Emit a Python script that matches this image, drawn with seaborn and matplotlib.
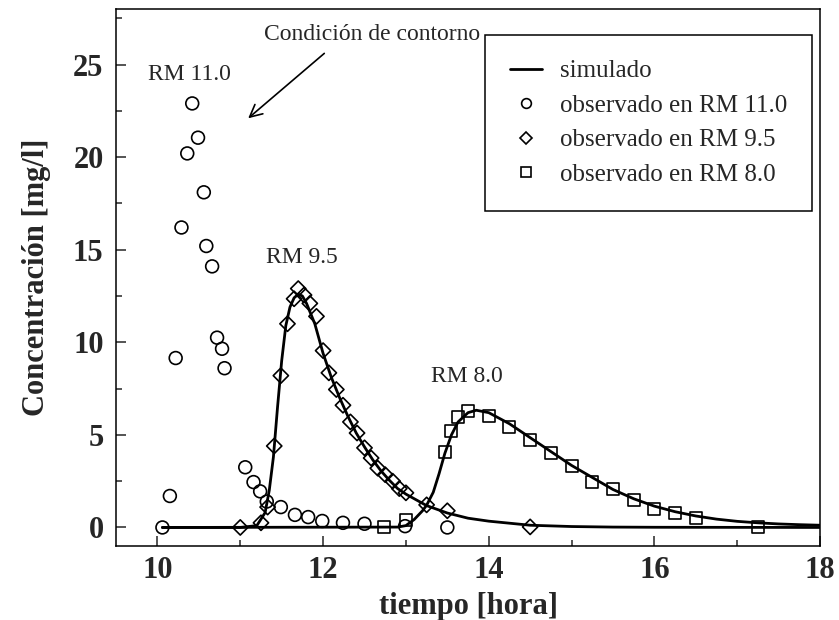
import numpy as np
import pandas as pd
import matplotlib
matplotlib.use("Agg")
import matplotlib.pyplot as plt
from matplotlib.lines import Line2D
from matplotlib.ticker import MultipleLocator
import seaborn as sns

# observed data, RM 11.0 (circles)
t_rm110 = [10.06, 10.15, 10.22, 10.29, 10.36, 10.42, 10.49, 10.56, 10.59, 10.66,
           10.72, 10.78, 10.81, 11.06, 11.16, 11.24, 11.32, 11.49, 11.66, 11.82,
           11.99, 12.24, 12.50, 12.99, 13.50]
c_rm110 = [0.0, 1.7, 9.15, 16.2, 20.2, 22.9, 21.05, 18.1, 15.2, 14.1,
           10.25, 9.65, 8.6, 3.25, 2.45, 1.95, 1.4, 1.1, 0.68, 0.56,
           0.35, 0.25, 0.2, 0.07, 0.0]

# observed data, RM 9.5 (diamonds)
t_rm95 = [11.00, 11.25, 11.33, 11.41, 11.49, 11.57, 11.65, 11.70, 11.77, 11.84,
          11.92, 12.00, 12.07, 12.16, 12.24, 12.33, 12.41, 12.50, 12.58, 12.66,
          12.75, 12.84, 12.92, 13.00, 13.25, 13.50, 14.50]
c_rm95 = [0.0, 0.25, 1.1, 4.4, 8.2, 11.0, 12.35, 12.9, 12.55, 12.1,
          11.4, 9.55, 8.35, 7.45, 6.6, 5.7, 5.1, 4.3, 3.75, 3.2,
          2.85, 2.5, 2.1, 1.87, 1.22, 0.9, 0.03]

# observed data, RM 8.0 (squares)
t_rm80 = [12.74, 13.00, 13.47, 13.55, 13.63, 13.75, 14.00, 14.25, 14.50, 14.75,
          15.00, 15.25, 15.50, 15.75, 16.00, 16.25, 16.50, 17.25]
c_rm80 = [0.0, 0.42, 4.05, 5.2, 5.95, 6.3, 6.0, 5.45, 4.7, 4.0,
          3.3, 2.45, 2.1, 1.5, 1.0, 0.8, 0.5, 0.03]

# simulated curves
t_sim95 = [10.06, 11.0, 11.2, 11.3, 11.35, 11.4, 11.45, 11.5, 11.55, 11.6,
           11.65, 11.7, 11.75, 11.8, 11.9, 12.0, 12.1, 12.2, 12.3, 12.4,
           12.5, 12.6, 12.7, 12.8, 12.9, 13.0, 13.25, 13.5, 13.75, 14.0,
           14.5, 15.0, 15.5, 16.0, 18.0]
c_sim95 = [0.0, 0.0, 0.1, 0.8, 2.0, 3.8, 6.5, 9.0, 10.9, 11.9,
           12.4, 12.6, 12.5, 12.1, 11.0, 9.4, 8.1, 7.0, 6.0, 5.1,
           4.35, 3.65, 3.05, 2.55, 2.1, 1.8, 1.18, 0.78, 0.5, 0.34,
           0.12, 0.05, 0.02, 0.01, 0.0]

t_sim80 = [10.06, 12.9, 13.0, 13.1, 13.2, 13.25, 13.33, 13.4, 13.47, 13.55,
           13.63, 13.75, 13.85, 14.0, 14.25, 14.5, 14.75, 15.0, 15.25, 15.5,
           15.75, 16.0, 16.25, 16.5, 16.75, 17.0, 17.25, 17.5, 17.75, 18.0]
c_sim80 = [0.0, 0.02, 0.1, 0.43, 0.9, 1.2, 1.9, 2.9, 4.0, 5.0,
           5.7, 6.2, 6.33, 6.2, 5.6, 4.85, 4.1, 3.35, 2.7, 2.05,
           1.55, 1.15, 0.85, 0.62, 0.45, 0.33, 0.25, 0.19, 0.15, 0.12]

sns.set_style("ticks")
plt.rcParams['font.family'] = ['Liberation Serif', 'DejaVu Serif']

fig = plt.figure(figsize=(8.39, 6.2), dpi=100)
ax = fig.add_axes([0.1383, 0.1194, 0.8391, 0.8661])

sim = pd.concat([
    pd.DataFrame({"t": t_sim95, "c": c_sim95, "rm": "9.5"}),
    pd.DataFrame({"t": t_sim80, "c": c_sim80, "rm": "8.0"}),
])
sns.lineplot(data=sim, x="t", y="c", units="rm", estimator=None, color="black",
             lw=2.0, ax=ax, legend=False, zorder=2)

mk = dict(s=85, facecolor="none", edgecolor="black", linewidth=1.2, zorder=3, legend=False)
sns.scatterplot(x=t_rm110, y=c_rm110, marker="o", ax=ax, **mk)
sns.scatterplot(x=t_rm95, y=c_rm95, marker="D", ax=ax, **{**mk, "s": 60})
sns.scatterplot(x=t_rm80, y=c_rm80, marker="s", ax=ax, **{**mk, "s": 75})

ax.set_xlim(9.5, 18)
ax.set_ylim(-1, 28)
ax.xaxis.set_major_locator(MultipleLocator(2))
ax.xaxis.set_minor_locator(MultipleLocator(1))
ax.yaxis.set_major_locator(MultipleLocator(5))
ax.yaxis.set_minor_locator(MultipleLocator(2.5))
ax.tick_params(which="both", direction="in", top=False, right=False, width=1.1)
ax.tick_params(which="major", length=7)
ax.tick_params(which="minor", length=4)
ax.tick_params(axis="x", which="major", pad=7, labelsize=22)
ax.tick_params(axis="y", which="major", pad=9, labelsize=22)
for lbl in ax.get_xticklabels() + ax.get_yticklabels():
    lbl.set_fontweight("bold")
for sp in ax.spines.values():
    sp.set_visible(True)
    sp.set_linewidth(1.1)
    sp.set_color("black")

ax.set_xlabel("tiempo [hora]", fontsize=22, fontweight="bold", labelpad=5)
ax.set_ylabel("Concentración [mg/l]", fontsize=22, fontweight="bold", labelpad=16)

ax.text(10.39, 24.45, "RM 11.0", fontsize=17, ha="center", va="center")
ax.text(11.74, 14.6, "RM 9.5", fontsize=17, ha="center", va="center")
ax.text(13.74, 8.17, "RM 8.0", fontsize=17, ha="center", va="center")
ax.annotate("", xy=(11.07, 22.0), xytext=(12.04, 25.7),
            arrowprops=dict(arrowstyle="->", color="black", lw=1.2, mutation_scale=22))
ax.text(12.59, 26.6, "Condición de contorno", fontsize=17, ha="center", va="center")

handles = [
    Line2D([], [], color="black", lw=2.0),
    Line2D([], [], ls="none", marker="o", mfc="none", mec="black", ms=7, mew=1.2),
    Line2D([], [], ls="none", marker="D", mfc="none", mec="black", ms=6, mew=1.2),
    Line2D([], [], ls="none", marker="s", mfc="none", mec="black", ms=6.5, mew=1.2),
]
labels = ["simulado", "observado en RM 11.0", "observado en RM 9.5", "observado en RM 8.0"]
leg = ax.legend(handles, labels, loc="upper right", bbox_to_anchor=(0.9886, 0.9516),
                borderaxespad=0, fontsize=18, frameon=True, fancybox=False,
                handlelength=1.3, handletextpad=0.7, borderpad=1.0, labelspacing=0.48)
leg.get_frame().set_edgecolor("black")
leg.get_frame().set_linewidth(1.1)
leg.get_frame().set_alpha(1)

fig.savefig("out.png", dpi=100)
